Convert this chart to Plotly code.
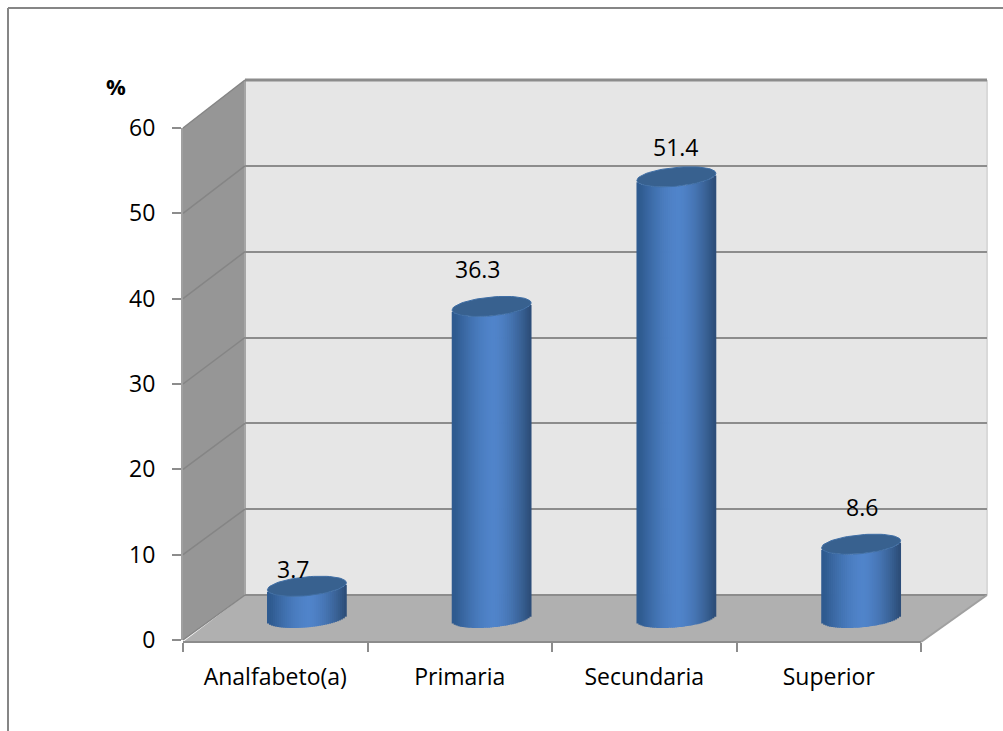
import math
import plotly.graph_objects as go

categories = ["Analfabeto(a)", "Primaria", "Secundaria", "Superior"]
values = [3.7, 36.3, 51.4, 8.6]
value_ticks = [0, 10, 20, 30, 40, 50, 60]
label_shift_x = [-14, -14, 0, 1]
label_shift_y = [17, 37, 30, 37]

W, H = 1003, 731
FONT = "Open Sans"
GRID = "#8c8c8c"

# chart geometry (pixels)
front_l, front_r, front_0, front_60 = 183, 921, 640, 128
back_l, back_r, back_0, back_60 = 245, 987, 595, 80
cyl_l, cyl_r, cyl_0, cyl_60 = 214.5, 953.5, 618, 103
axis_y = 642
rx, ax_ry, tilt = 39.5, 9.4, 3.5
N_STRIPS = 40


def fx(px):
    return px / W


def fy(py):
    return (H - py) / H


def poly(points, fill):
    path = "M " + " L ".join(f"{fx(x):.5f},{fy(y):.5f}" for x, y in points) + " Z"
    return dict(type="path", xref="paper", yref="paper", path=path,
                fillcolor=fill, line=dict(width=0), layer="below")


def seg(x0, y0, x1, y1, color=GRID, width=2):
    return dict(type="line", xref="paper", yref="paper", x0=fx(x0), y0=fy(y0),
                x1=fx(x1), y1=fy(y1), line=dict(color=color, width=width), layer="below")


shapes = [
    poly([(back_l, back_60), (back_r, back_60), (back_r, back_0), (back_l, back_0)], "#e6e6e6"),
    poly([(front_l, front_60), (back_l, back_60), (back_l, back_0), (front_l, front_0)], "#969696"),
    poly([(front_l, axis_y), (back_l, back_0), (back_r, back_0), (front_r, axis_y)], "#b0b0b0"),
    seg(back_r, back_60, back_r, back_0, "#d9d9d9", 2),
    seg(back_l, back_60, back_l, back_0, "#a6a6a6", 2),
    seg(back_l, back_60, back_r, back_60, GRID, 3),
    seg(back_l, back_0, back_r, back_0, GRID, 2),
    seg(back_r, back_0, front_r, axis_y, "#a0a0a0", 2),
    seg(8, H + 5, 8, 8, "#868686", 2),
    seg(8, 8, W + 5, 8, "#868686", 2),
]
for v in value_ticks:
    yf = front_0 + (front_60 - front_0) * v / 60
    yb = back_0 + (back_60 - back_0) * v / 60
    shapes.append(seg(front_l, yf, back_l, yb, "#858585", 1.5))

fig = go.Figure()

# back wall gridlines
fig.add_trace(go.Scatter(x=[0, 1], y=[0, 60], mode="markers", marker=dict(opacity=0),
                         xaxis="x", yaxis="y", hoverinfo="skip", showlegend=False))
# front axes
fig.add_trace(go.Scatter(x=categories, y=values, mode="markers", marker=dict(opacity=0),
                         xaxis="x2", yaxis="y2", hoverinfo="skip", showlegend=False))

# cylinders: numeric axes shifted half the depth of the floor
px_x = (cyl_r - cyl_l) / 4
px_y = (cyl_0 - cyl_60) / 60
positions = list(range(len(categories)))


def shade(u):
    left = (0x2f, 0x5b, 0x90)
    mid = (0x50, 0x84, 0xca)
    right = (0x2b, 0x4c, 0x76)
    end = left if u < 0.05 else right
    t = min(abs(u - 0.05) / 0.95, 1) ** 1.6
    return "rgb(%d,%d,%d)" % tuple(round(m + (e - m) * t) for m, e in zip(mid, end))


for k in range(N_STRIPS):
    u0 = -1 + 2 * k / N_STRIPS
    u1 = -1 + 2 * (k + 1) / N_STRIPS
    uc = (u0 + u1) / 2
    low = tilt * uc - ax_ry * math.sqrt(max(1 - uc * uc, 0))
    fig.add_trace(go.Bar(
        x=positions, y=values, base=low / px_y,
        offset=uc * rx / px_x - (rx / N_STRIPS + 0.4) / px_x,
        width=(2 * rx / N_STRIPS + 0.8) / px_x,
        marker=dict(color=shade(uc), line=dict(width=0)),
        xaxis="x3", yaxis="y3", hoverinfo="skip", showlegend=False))

# cylinder tops
angles = [2 * math.pi * i / 72 for i in range(73)]
for pos, val in zip(positions, values):
    fig.add_trace(go.Scatter(
        x=[pos + rx * math.cos(t) / px_x for t in angles],
        y=[val + (tilt * math.cos(t) + ax_ry * math.sin(t)) / px_y for t in angles],
        mode="lines", fill="toself", fillcolor="#38618f",
        line=dict(color="#3f6ea5", width=1),
        xaxis="x3", yaxis="y3", hoverinfo="skip", showlegend=False))

annotations = [
    dict(x=pos, y=val, xref="x3", yref="y3", text=str(val), showarrow=False,
         xshift=dx, yshift=dy, font=dict(family=FONT, size=23, color="black"))
    for pos, val, dx, dy in zip(positions, values, label_shift_x, label_shift_y)
]
annotations.append(dict(x=fx(116), y=fy(86), xref="paper", yref="paper", text="<b>%</b>",
                        xanchor="center", yanchor="middle", showarrow=False,
                        font=dict(family=FONT, size=22, color="black")))

fig.update_layout(
    width=W, height=H, margin=dict(l=0, r=0, t=0, b=0, autoexpand=False),
    paper_bgcolor="white", plot_bgcolor="rgba(0,0,0,0)",
    barmode="overlay", showlegend=False, hovermode=False,
    shapes=shapes, annotations=annotations,
    xaxis=dict(domain=[fx(back_l), fx(back_r)], range=[0, 1], visible=False, automargin=False),
    yaxis=dict(domain=[fy(back_0), fy(back_60)], range=[0, 60], tickvals=value_ticks,
               showgrid=True, gridcolor=GRID, gridwidth=2, zeroline=False, automargin=False,
               showticklabels=False, ticks="", showline=False),
    xaxis2=dict(domain=[fx(front_l), fx(front_r)], type="category", automargin=False,
                categoryorder="array", categoryarray=categories, range=[-0.5, 3.5],
                tickson="boundaries", ticks="outside", ticklen=9, tickwidth=2, tickcolor=GRID,
                showline=True, linecolor=GRID, linewidth=2, showgrid=False,
                anchor="free", position=fy(axis_y), ticklabelstandoff=14,
                tickfont=dict(family=FONT, size=23, color="black")),
    yaxis2=dict(domain=[fy(front_0), fy(front_60)], range=[0, 60], tickvals=value_ticks,
                ticks="outside", ticklen=9, tickwidth=2, tickcolor=GRID, automargin=False,
                showline=True, linecolor="#a0a0a0", linewidth=2, showgrid=False, zeroline=False,
                anchor="x2", ticklabelstandoff=12,
                tickfont=dict(family=FONT, size=23, color="black")),
    xaxis3=dict(domain=[fx(cyl_l), fx(cyl_r)], range=[-0.5, 3.5], visible=False, automargin=False),
    yaxis3=dict(domain=[fy(cyl_0 + 25), fy(cyl_60)], automargin=False,
                range=[-25 / px_y, 60], visible=False),
)

fig.write_html("out.html", config=dict(displayModeBar=False),
               post_script="document.body.style.margin='0';document.body.style.overflow='hidden';")
